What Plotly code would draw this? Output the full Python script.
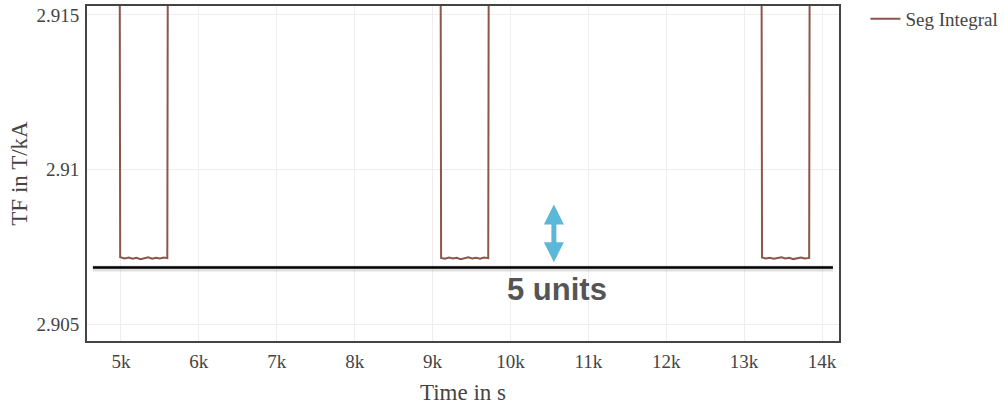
import plotly.graph_objects as go

# Data
time_s = [4600, 4975, 4990, 5050, 5100, 5150, 5200, 5250, 5300, 5350, 5400, 5450, 5500, 5550, 5595, 5610,
          9095, 9110, 9160, 9210, 9260, 9310, 9360, 9410, 9460, 9510, 9560, 9610, 9660, 9715, 9730,
          13215, 13230, 13280, 13330, 13380, 13430, 13480, 13530, 13580, 13630, 13680, 13730, 13780, 13835, 13850, 14200]
tf_values = [2.93, 2.93, 2.90716, 2.90712, 2.90715, 2.90711, 2.90714, 2.90710, 2.90713, 2.90716, 2.90711, 2.90714, 2.90712, 2.90715, 2.90713, 2.93,
             2.93, 2.90714, 2.90711, 2.90715, 2.90712, 2.90714, 2.90710, 2.90713, 2.90716, 2.90712, 2.90714, 2.90711, 2.90715, 2.90713, 2.93,
             2.93, 2.90715, 2.90712, 2.90714, 2.90711, 2.90713, 2.90716, 2.90712, 2.90714, 2.90710, 2.90713, 2.90715, 2.90712, 2.90714, 2.93, 2.93]

ref_line_x = [4640, 14140]
ref_line_y = 2.90683
arrow_x = 10558
arrow_y = [2.90887, 2.90695]
label_x = 10597
label_y = 2.90612
label_text = "5 units"

x_ticks = [5000, 6000, 7000, 8000, 9000, 10000, 11000, 12000, 13000, 14000]
x_tick_text = ["5k", "6k", "7k", "8k", "9k", "10k", "11k", "12k", "13k", "14k"]
y_ticks = [2.905, 2.91, 2.915]
y_tick_text = ["2.905", "2.91", "2.915"]

SERIF = "Liberation Serif"

fig = go.Figure()
fig.add_trace(go.Scatter(x=time_s, y=tf_values, mode="lines", name="Seg Integral",
                         line=dict(color="#8c564b", width=2), showlegend=True))

# shadow of reference line
fig.add_shape(type="line", x0=ref_line_x[0], x1=ref_line_x[1], y0=ref_line_y - 0.00003, y1=ref_line_y - 0.00003,
              line=dict(color="rgba(0,0,0,0.12)", width=6), xref="x", yref="y")
fig.add_shape(type="line", x0=ref_line_x[0], x1=ref_line_x[1], y0=ref_line_y, y1=ref_line_y,
              line=dict(color="black", width=2.5), xref="x", yref="y")

fig.add_annotation(x=arrow_x, y=arrow_y[0], ax=arrow_x, ay=arrow_y[1], xref="x", yref="y",
                   axref="x", ayref="y", text="", showarrow=True, arrowhead=2, arrowside="end+start",
                   arrowsize=0.8, arrowwidth=5, arrowcolor="#5bb8d8")
fig.add_annotation(x=label_x, y=label_y, xref="x", yref="y", text="<b>" + label_text + "</b>",
                   showarrow=False, font=dict(family="Liberation Sans", size=31, color="#555555"))

fig.update_layout(
    template="none",
    width=1004, height=405,
    margin=dict(l=87, r=165, t=6, b=64, autoexpand=False),
    paper_bgcolor="white", plot_bgcolor="white",
    font=dict(family=SERIF, size=19, color="#444444"),
    legend=dict(xref="container", yref="container", x=0.862, y=1.006, xanchor="left", yanchor="top",
                font=dict(family=SERIF, size=19, color="#444444")),
    xaxis=dict(range=[4564, 14218], tickvals=x_ticks, ticktext=x_tick_text,
               showgrid=True, gridcolor="#eeeeee", gridwidth=1, zeroline=False,
               showline=True, linecolor="#444444", linewidth=2, mirror=True,
               ticks="outside", ticklen=2, tickcolor="rgba(0,0,0,0)",
               title=dict(text="Time in s", font=dict(family=SERIF, size=23, color="#444444"), standoff=14),
               tickfont=dict(family=SERIF, size=19, color="#444444")),
    yaxis=dict(range=[2.90445, 2.91529], tickvals=y_ticks, ticktext=y_tick_text,
               showgrid=True, gridcolor="#eeeeee", gridwidth=1, zeroline=False,
               showline=True, linecolor="#444444", linewidth=2, mirror=True,
               ticks="outside", ticklen=2, tickcolor="rgba(0,0,0,0)",
               title=dict(text="TF in T/kA", font=dict(family=SERIF, size=23, color="#444444"), standoff=2),
               tickfont=dict(family=SERIF, size=19, color="#444444")),
)

fig.write_html("out.html")
